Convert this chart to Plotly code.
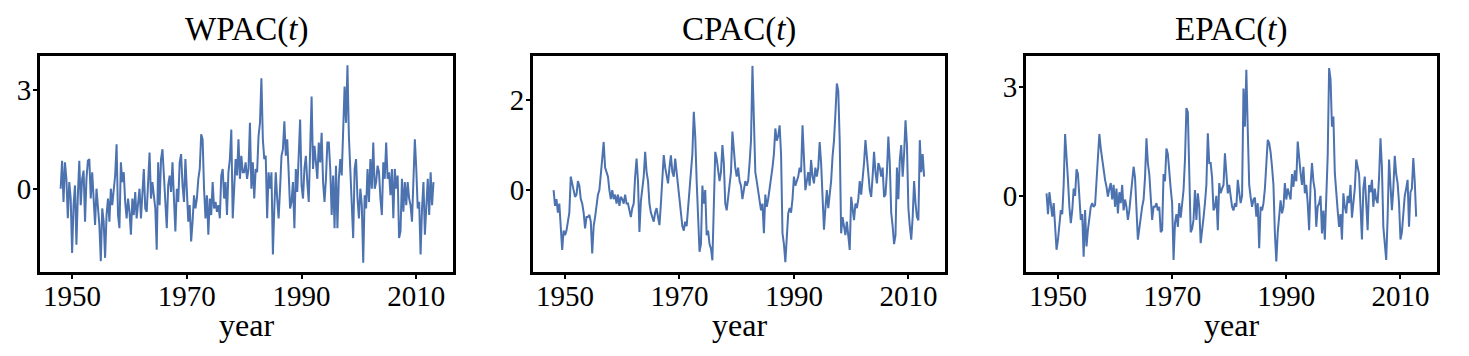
import numpy as np
import plotly.graph_objects as go

# Quarterly values (one row per year, Q1..Q4), starting 1948
wpac = [
    0.0, 0.85, -0.4, 0.8,      # 1948
    0.3, -0.9, 0.2, -0.3,      # 1949
    -1.95, -0.5, 0.1, -1.7,    # 1950
    -0.2, 0.85, -0.5, 0.3,     # 1951
    0.55, -1.0, 0.3, 0.85,     # 1952
    0.9, -0.3, 0.5, -0.2,      # 1953
    -1.1, 0.0, -0.6, -1.1,     # 1954
    -2.2, -0.6, -1.0, -2.1,    # 1955
    -0.8, -0.3, -1.0, 0.0,     # 1956
    -0.5, 0.0, 0.4, 1.35,      # 1957
    -0.8, -1.2, 0.8, 0.2,      # 1958
    0.5, -0.4, -0.9, -0.3,     # 1959
    -0.7, -1.4, -0.3, -0.8,    # 1960
    -0.1, -0.9, -0.4, 0.0,     # 1961
    -0.9, -0.2, 0.6, -0.6,     # 1962
    -0.7, 0.2, 1.1, -0.3,      # 1963
    0.2, -0.2, -0.6, -1.85,    # 1964
    0.8, -0.5, 0.9, 1.2,       # 1965
    0.3, -0.2, -1.2, 0.1,      # 1966
    0.4, -0.1, 0.8, -0.3,      # 1967
    -1.3, 0.0, -0.4, 0.8,      # 1968
    1.05, 0.1, -0.4, 0.9,      # 1969
    0.0, -1.0, -0.5, -1.6,     # 1970
    -1.0, -0.2, -0.6, -0.3,    # 1971
    0.3, 0.6, 1.65, 1.5,       # 1972
    0.0, -0.9, -0.2, -1.4,     # 1973
    -0.3, -0.8, 0.2, -0.6,     # 1974
    -0.4, -0.7, -0.5, -0.9,    # 1975
    0.4, 0.6, -0.3, 0.2,       # 1976
    -0.8, 0.5, 0.9, 1.8,       # 1977
    -0.9, 0.2, 0.9, 0.4,       # 1978
    1.5, 0.3, 1.0, 0.5,        # 1979
    0.5, 0.8, 0.3, 0.6,        # 1980
    2.0, 0.0, 0.8, -0.3,       # 1981
    0.6, 0.5, 1.6, 2.0,        # 1982
    3.35, 1.5, 0.9, 1.0,       # 1983
    -0.9, 0.5, 0.0, 0.5,       # 1984
    -2.0, -0.6, 0.5, -0.3,     # 1985
    -0.9, 0.0, 1.0, 1.2,       # 1986
    2.05, 1.0, 1.5, 0.5,       # 1987
    -0.6, -0.4, 0.2, -1.2,     # 1988
    0.6, -0.1, 0.8, 2.1,       # 1989
    0.1, -0.3, 0.6, 1.0,       # 1990
    0.2, -0.4, 1.2, 2.8,       # 1991
    0.6, 1.3, 0.8, 0.3,        # 1992
    1.4, 0.8, 1.7, 0.2,        # 1993
    -0.4, 0.3, 1.4, 1.4,       # 1994
    0.6, -0.8, 0.4, -1.2,      # 1995
    0.7, -1.2, 0.3, 0.9,       # 1996
    0.4, 2.0, 3.1, 2.0,        # 1997
    3.75, 1.6, 0.6, -0.9,      # 1998
    -1.5, 0.6, 0.9, -0.3,      # 1999
    -0.9, 0.0, -0.5, -2.25,    # 2000
    -0.2, -0.6, 0.6, -0.4,     # 2001
    0.9, 0.0, 1.4, 0.0,        # 2002
    0.2, 0.7, 0.5, -0.3,       # 2003
    -0.8, 0.8, 0.3, 1.4,       # 2004
    0.3, 0.5, -0.2, 0.6,       # 2005
    -0.9, 0.6, 0.0, 0.4,       # 2006
    -1.5, -1.3, 0.3, -0.7,     # 2007
    0.2, -0.5, 0.2, -0.3,      # 2008
    -0.5, -1.0, 0.2, 1.5,      # 2009
    0.6, -0.6, -0.4, -2.0,     # 2010
    -0.6, 0.2, -1.4, -0.3,     # 2011
    0.3, -0.8, 0.5, -0.5,      # 2012
    0.2,                       # 2013
]

cpac = [
    0.0, -0.35, -0.2, -0.5,    # 1948
    -0.3, -0.9, -1.33, -0.9,   # 1949
    -1.0, -0.9, -0.7, -0.5,    # 1950
    0.3, 0.1, 0.0, -0.15,      # 1951
    -0.1, 0.2, 0.1, -0.2,      # 1952
    -0.3, -0.5, -0.85, -0.6,   # 1953
    -0.6, -0.55, -0.7, -1.41,  # 1954
    -0.8, -0.6, -0.3, -0.1,    # 1955
    0.0, 0.3, 0.7, 1.07,       # 1956
    0.5, 0.4, 0.3, 0.0,        # 1957
    -0.2, 0.0, -0.2, -0.1,     # 1958
    -0.3, -0.1, -0.35, -0.15,  # 1959
    -0.2, -0.3, -0.1, -0.3,    # 1960
    -0.3, -0.45, -0.6, -0.4,   # 1961
    -0.3, 0.3, 0.7, 0.2,       # 1962
    -0.93, -0.25, 0.0, 0.3,    # 1963
    0.85, 0.4, 0.2, -0.3,      # 1964
    -0.5, -0.6, -0.7, -0.5,    # 1965
    -0.4, -0.6, -0.78, -0.3,   # 1966
    0.3, 0.78, 0.5, 0.3,       # 1967
    0.15, 0.5, 0.77, 0.4,      # 1968
    0.3, 0.7, 0.4, 0.1,        # 1969
    -0.3, -0.5, -0.8, -0.9,    # 1970
    -0.7, -0.8, -0.4, 0.0,     # 1971
    0.3, 0.8, 1.74, 1.2,       # 1972
    0.2, -0.6, -1.37, -1.2,    # 1973
    0.1, -0.3, 0.0, -1.0,      # 1974
    -0.9, -1.2, -1.3, -1.56,   # 1975
    -0.5, 0.85, 0.7, 0.4,      # 1976
    0.2, 0.4, 1.0, 0.6,        # 1977
    -0.3, -0.45, -0.2, 0.1,    # 1978
    0.4, 1.3, 0.8, 0.5,        # 1979
    0.3, 0.5, 0.2, 0.1,        # 1980
    -0.2, 0.0, 0.2, 0.1,       # 1981
    0.2, 0.6, 1.11, 2.76,      # 1982
    1.2, 0.4, 0.2, 0.0,        # 1983
    -0.2, -0.45, -0.3, -0.96,  # 1984
    -0.1, -0.37, -0.2, 0.0,    # 1985
    0.2, 0.5, 0.8, 1.37,       # 1986
    1.1, 1.2, 1.44, 0.8,       # 1987
    -0.96, -1.2, -1.6, -1.1,   # 1988
    -0.52, -0.4, -0.5, -0.2,   # 1989
    0.3, 0.1, 0.2, 0.3,        # 1990
    0.5, 0.4, 1.44, 0.8,       # 1991
    0.0, 0.2, 0.4, 0.1,        # 1992
    0.67, 0.3, 0.15, 0.5,      # 1993
    0.3, 0.5, 1.07, 0.6,       # 1994
    -0.3, -0.88, -0.4, 0.0,    # 1995
    -0.4, -0.1, 0.2, 0.75,     # 1996
    1.1, 1.7, 2.37, 2.2,       # 1997
    1.1, -0.96, -0.6, -0.8,    # 1998
    -1.0, -0.7, -1.1, -1.33,   # 1999
    -0.15, -0.5, -0.67, -0.3,  # 2000
    -0.4, -0.2, 0.2, -0.1,     # 2001
    0.2, 0.6, 1.11, 0.8,       # 2002
    0.37, 0.0, -0.15, 0.3,     # 2003
    0.85, 0.4, 0.15, 0.6,      # 2004
    0.5, 0.3, 0.5, -0.15,      # 2005
    -0.1, 0.4, 1.19, 0.6,      # 2006
    -0.5, -0.8, -1.2, -1.0,    # 2007
    0.5, -0.2, 0.67, 1.0,      # 2008
    0.3, 0.8, 1.55, 1.0,       # 2009
    -0.4, -0.8, -1.1, -0.6,    # 2010
    0.2, -0.3, -0.6, -0.67,    # 2011
    1.11, 0.4, 0.8, 0.3,       # 2012
]

epac = [
    0.07, -0.5, 0.1, -0.3,     # 1948
    -0.57, -0.2, -1.0, -1.48,  # 1949
    -1.2, -0.84, -0.39, -0.5,  # 1950
    0.3, 1.7, 1.17, 0.44,      # 1951
    -0.3, -0.75, -0.4, 0.2,    # 1952
    0.0, 0.73, 0.6, -0.2,      # 1953
    -0.66, -0.5, -1.67, -0.39, # 1954
    -1.39, -0.93, -0.6, -0.3,  # 1955
    -0.2, -0.3, -0.25, 0.44,   # 1956
    1.0, 1.7, 1.3, 1.0,        # 1957
    0.6, 0.44, 0.25, -0.02,    # 1958
    0.2, 0.35, -0.1, 0.3,      # 1959
    -0.3, 0.2, -0.48, 0.1,     # 1960
    -0.2, 0.3, -0.4, -0.1,     # 1961
    -0.3, -0.66, -0.4, 0.0,    # 1962
    0.3, 0.8, 0.5, -0.4,       # 1963
    -1.2, -0.9, -0.5, -0.3,    # 1964
    -0.1, 0.5, 1.58, 0.9,      # 1965
    0.6, -0.2, -0.66, -0.3,    # 1966
    -0.3, -0.2, -0.4, -0.3,    # 1967
    -1.0, -0.94, 0.6, 0.4,     # 1968
    1.3, 1.15, 0.6, 0.2,       # 1969
    -0.2, -1.76, -0.75, -0.5,  # 1970
    -0.85, -0.2, -0.6, -0.3,   # 1971
    0.16, 1.0, 2.41, 2.3,      # 1972
    0.8, -1.0, -0.9, -0.66,    # 1973
    0.16, -0.66, 0.07, -0.3,   # 1974
    -1.3, -1.0, -0.6, -0.2,    # 1975
    0.3, 1.72, 0.9, 0.9,       # 1976
    0.5, -0.4, -0.3, 0.0,      # 1977
    -0.94, 0.35, 0.07, 0.2,    # 1978
    0.3, 1.17, 0.5, 0.07,      # 1979
    0.3, -0.1, -0.3, -0.4,     # 1980
    -0.2, -0.3, 0.44, 0.1,     # 1981
    -0.2, 0.0, 2.95, 1.9,      # 1982
    3.46, 1.81, 0.3, -0.03,    # 1983
    -0.3, -0.1, -0.05, -0.57,  # 1984
    -0.2, -1.44, -0.3, -0.4,   # 1985
    -0.2, 0.2, 0.8, 1.54,      # 1986
    1.45, 1.2, 0.8, 0.3,       # 1987
    -1.03, -1.8, -1.0, -0.6,   # 1988
    -0.12, -0.48, -0.3, 0.35,  # 1989
    -0.1, 0.2, 0.0, -0.1,      # 1990
    0.6, 0.25, 0.7, 0.4,       # 1991
    1.49, 1.0, 0.63, 0.3,      # 1992
    0.8, 0.07, 0.3, -0.2,      # 1993
    -0.94, 0.3, 0.9, 0.4,      # 1994
    0.16, -0.85, -0.3, -0.2,   # 1995
    0.0, -1.03, -0.4, -1.2,    # 1996
    0.2, 1.1, 3.51, 3.2,       # 1997
    1.9, 2.18, 0.63, 0.0,      # 1998
    -0.4, -0.85, -0.5, -1.2,   # 1999
    0.07, -0.3, -0.48, 0.0,    # 2000
    -0.2, 0.3, -0.6, -0.2,     # 2001
    0.2, 1.0, 0.73, 0.6,       # 2002
    -0.3, -1.2, 0.2, 0.53,     # 2003
    -0.2, -0.94, 0.3, 0.1,     # 2004
    0.44, -0.3, 0.2, -0.1,     # 2005
    -0.2, 0.5, 1.58, 0.8,      # 2006
    -0.85, -1.3, -1.76, -0.6,  # 2007
    1.0, 0.3, -0.39, 0.2,      # 2008
    1.1, 0.6, 0.35, -0.2,      # 2009
    -1.2, -1.0, -0.5, 0.0,     # 2010
    0.2, 0.44, -0.85, 0.1,     # 2011
    0.2, 1.04, 0.4, -0.57,     # 2012
]

titles = ["WPAC(<i>t</i>)", "CPAC(<i>t</i>)", "EPAC(<i>t</i>)"]
series = [wpac, cpac, epac]
start_year = 1948
per_year = 4
x_ticks = [1950, 1970, 1990, 2010]
y_ticks = [[0, 3], [0, 2], [0, 3]]
y_ranges = [[-2.53, 4.03], [-1.82, 2.98], [-2.09, 3.84]]
x_range = [1944.4, 2016.4]

W, H = 1469, 356
boxes = [(40, 453), (533, 945), (1026, 1437)]
y_top, y_bot = 56, 272
FONT = "Liberation Serif"
LINE = "#4c72b0"
TICK_SIZE = 29

fig = go.Figure()
layout = dict(
    width=W, height=H,
    margin=dict(l=0, r=0, t=0, b=0, autoexpand=False),
    paper_bgcolor="white", plot_bgcolor="white",
    showlegend=False,
    font=dict(family=FONT, size=TICK_SIZE, color="black"),
    annotations=[],
)
for i, (vals, title) in enumerate(zip(series, titles)):
    n = len(vals)
    xs = start_year + np.arange(n) / per_year
    suffix = "" if i == 0 else str(i + 1)
    fig.add_trace(go.Scatter(x=xs, y=vals, mode="lines",
                             line=dict(color=LINE, width=2),
                             xaxis="x" + suffix, yaxis="y" + suffix,
                             hoverinfo="skip"))
    x0, x1 = boxes[i]
    common = dict(showline=True, linecolor="black", linewidth=3, mirror=True,
                  showgrid=False, zeroline=False, ticks="outside",
                  tickcolor="black", tickwidth=2, ticklen=4, automargin=False,
                  tickfont=dict(family=FONT, size=TICK_SIZE, color="black"))
    layout["xaxis" + suffix] = dict(common, domain=[x0 / W, x1 / W],
                                    anchor="y" + suffix, range=x_range,
                                    tickvals=x_ticks,
                                    ticktext=[str(v) for v in x_ticks],
                                    ticklabelstandoff=-8)
    layout["yaxis" + suffix] = dict(common, domain=[1 - y_bot / H, 1 - y_top / H],
                                    anchor="x" + suffix, range=y_ranges[i],
                                    tickvals=y_ticks[i],
                                    ticktext=[str(v) for v in y_ticks[i]],
                                    ticklabelstandoff=-4)
    layout["annotations"].append(dict(
        text=title, x=(x0 + x1) / 2 / W, y=1 - 30 / H,
        xref="paper", yref="paper", xanchor="center", yanchor="middle",
        showarrow=False, font=dict(family=FONT, size=33, color="black")))
    layout["annotations"].append(dict(
        text="year", x=(x0 + x1) / 2 / W, y=1 - 325 / H,
        xref="paper", yref="paper", xanchor="center", yanchor="middle",
        showarrow=False, font=dict(family=FONT, size=32, color="black")))

fig.update_layout(**layout)
fig.write_html("out.html", config={"displayModeBar": False},
               post_script="document.body.style.margin='0';document.body.style.overflow='hidden';")
